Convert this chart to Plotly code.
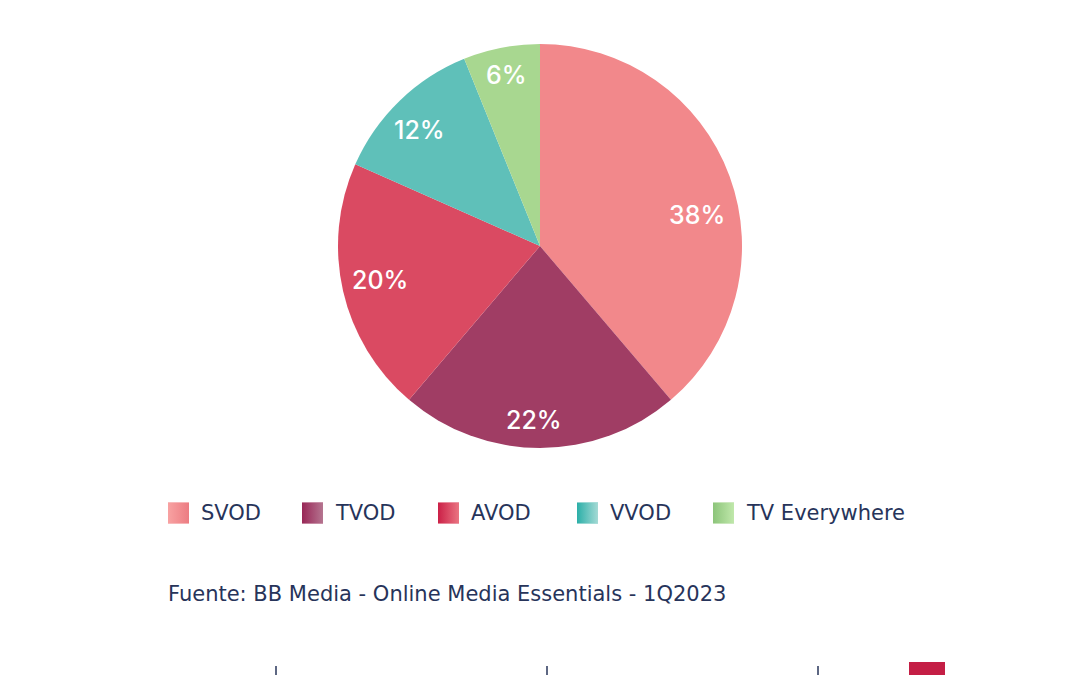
import base64
import math
import plotly.graph_objects as go

# ---- data ----
categories = ["SVOD", "TVOD", "AVOD", "VVOD", "TV Everywhere"]
shares = [38, 22, 20, 12, 6]
source_text = "Fuente: BB Media - Online Media Essentials - 1Q2023"

# ---- style ----
slice_colors = ["#F2888B", "#A03D64", "#DA4A62", "#5FC0B9", "#A8D790"]
grad_left = ["#F8A2A2", "#982656", "#CB2047", "#2BAFA8", "#8CC47A"]
grad_right = ["#EC7C82", "#B57590", "#EA7582", "#A5DAD5", "#C0E8AB"]
text_color = "#27345A"
font_family = "DejaVu Sans, sans-serif"
label_font = "Inter, sans-serif"

W, H = 1080, 675
cx, cy, R = 540, 246, 202  # pie geometry in pixels
legend_x = [168, 302, 438, 577, 713]
legend_y = 513
sq = 21
label_r = [0.79, 0.86, 0.81, 0.83, 0.86]      # label radius fraction per slice
label_shift = [9, 2, 1, -2, 0]                 # angular nudge (degrees) per slice

fig = go.Figure()
fig.add_trace(go.Pie(
    labels=categories,
    values=shares,
    sort=False,
    direction="clockwise",
    rotation=0,
    textinfo="none",
    hoverinfo="label+value",
    marker=dict(colors=slice_colors, line=dict(width=0)),
    domain=dict(x=[(cx - R) / W, (cx + R) / W], y=[1 - (cy + R) / H, 1 - (cy - R) / H]),
    showlegend=False,
))

annotations = []
shapes = []
images = []

# slice labels at mid angles
total = sum(shares)
cum = 0
for v, rf, sh in zip(shares, label_r, label_shift):
    mid = (cum + v / 2) / total * 2 * math.pi + math.radians(sh)
    cum += v
    px = cx + rf * R * math.sin(mid)
    py = cy - rf * R * math.cos(mid)
    annotations.append(dict(
        x=px / W, y=1 - py / H, xref="paper", yref="paper",
        text=f"{v}%", showarrow=False,
        font=dict(family=label_font, size=25, color="white", weight=500),
        xanchor="center", yanchor="middle",
    ))

# custom legend with gradient squares
def grad_svg(c1, c2):
    svg = (f'<svg xmlns="http://www.w3.org/2000/svg" width="40" height="40">'
           f'<defs><linearGradient id="g" x1="0" y1="0" x2="1" y2="0">'
           f'<stop offset="0" stop-color="{c1}"/><stop offset="1" stop-color="{c2}"/>'
           f'</linearGradient></defs><rect width="40" height="40" fill="url(#g)"/></svg>')
    return "data:image/svg+xml;base64," + base64.b64encode(svg.encode()).decode()

for name, x0, c, c1, c2 in zip(categories, legend_x, slice_colors, grad_left, grad_right):
    shapes.append(dict(type="rect", xref="paper", yref="paper",
                       x0=x0 / W, x1=(x0 + sq) / W,
                       y0=1 - (legend_y + sq / 2) / H, y1=1 - (legend_y - sq / 2) / H,
                       fillcolor=c, line=dict(width=0), layer="below"))
    images.append(dict(source=grad_svg(c1, c2), xref="paper", yref="paper",
                       x=x0 / W, y=1 - (legend_y - sq / 2) / H,
                       sizex=sq / W, sizey=sq / H, sizing="stretch",
                       xanchor="left", yanchor="top", layer="above"))
    annotations.append(dict(
        x=(x0 + sq + 10) / W, y=1 - legend_y / H, xref="paper", yref="paper",
        text=name, showarrow=False, xanchor="left", yanchor="middle",
        font=dict(family=font_family, size=21, color=text_color),
    ))

# source note
annotations.append(dict(
    x=166 / W, y=1 - 594 / H, xref="paper", yref="paper",
    text=source_text, showarrow=False, xanchor="left", yanchor="middle",
    font=dict(family=font_family, size=21, color=text_color),
))

# footer decorations
for fx in [276, 547, 818]:
    shapes.append(dict(type="line", xref="paper", yref="paper",
                       x0=fx / W, x1=fx / W, y0=0, y1=1 - 666 / H,
                       line=dict(color=text_color, width=1.5)))
shapes.append(dict(type="rect", xref="paper", yref="paper",
                   x0=909 / W, x1=945 / W, y0=0, y1=1 - 662 / H,
                   fillcolor="#C41E45", line=dict(width=0)))

fig.update_layout(
    width=W, height=H,
    margin=dict(l=0, r=0, t=0, b=0),
    paper_bgcolor="white", plot_bgcolor="white",
    annotations=annotations, shapes=shapes, images=images,
    showlegend=False,
)

fig.write_html("out.html")
